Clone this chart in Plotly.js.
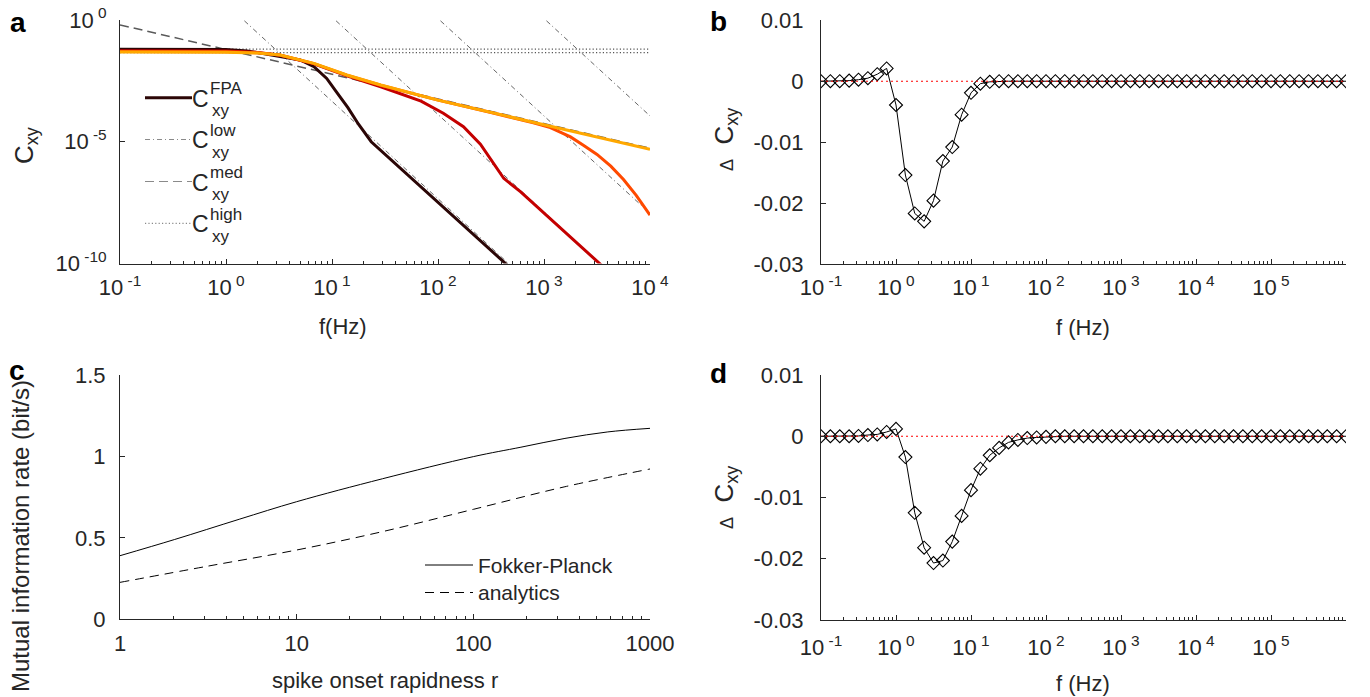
<!DOCTYPE html>
<html><head><meta charset="utf-8">
<script src="https://cdn.plot.ly/plotly-3.0.1.min.js"></script>
<style>html,body{margin:0;padding:0;background:#fff}#chart{width:1370px;height:697px}</style>
</head><body><div id="chart"></div>
<script>
// ===== Panel a: coherence spectra (values as log10) =====
const darkLogF = [-1, 0, 0.2, 0.35, 0.5, 0.7, 0.83, 0.95, 1.05, 1.15, 1.25, 1.37, 2.7];
const darkLogC = [-1.20, -1.21, -1.27, -1.38, -1.50, -1.64, -1.92, -2.40, -3.00, -3.60, -4.28, -5.00, -10.25];
const redLogF = [-1, 0, 0.3, 0.51, 0.83, 1.14, 1.46, 1.65, 1.84, 2.05, 2.24, 2.40, 2.53, 2.62, 2.78, 3.6];
const redLogC = [-1.26, -1.27, -1.33, -1.45, -1.80, -2.29, -2.74, -3.02, -3.33, -3.83, -4.38, -5.10, -5.95, -6.50, -7.06, -10.3];
const orangeRedLogF = [-1, 0, 0.3, 0.51, 0.83, 1.14, 1.46, 1.77, 2.0, 2.5, 2.9, 3.06, 3.25, 3.375, 3.5, 3.63, 3.75, 3.87, 4.0];
const orangeRedLogC = [-1.29, -1.30, -1.35, -1.44, -1.79, -2.27, -2.68, -3.02, -3.29, -3.80, -4.22, -4.42, -4.80, -5.15, -5.52, -6.00, -6.55, -7.20, -8.01];
const orangeLogF = [-1, 0, 0.3, 0.51, 0.83, 1.14, 1.46, 1.77, 2.0, 3.0, 4.0];
const orangeLogC = [-1.31, -1.32, -1.36, -1.44, -1.78, -2.26, -2.67, -3.01, -3.29, -4.30, -5.31];
// asymptotes
const lowLogF = [[0.09, 2.79], [0.955, 3.655], [1.94, 4.64], [2.94, 5.64]];
const lowLogC = [0.3, -10.5];
const medLogF = [-1, 4];
const medLogC = [-0.20, -5.27];
const highLogF = [-1, 4];
const highLogC = [[-1.20, -1.20], [-1.34, -1.34]];
const fpaColors = ['#2b0606', '#c40000', '#ff4a00', '#ffa800'];

// ===== Panels b, d: difference of coherence =====
const freqLog = [-1, -0.875, -0.75, -0.625, -0.5, -0.375, -0.25, -0.125, 0, 0.125, 0.25, 0.375, 0.5, 0.625, 0.75, 0.875,
  1, 1.125, 1.25, 1.375, 1.5, 1.625, 1.75, 1.875, 2, 2.125, 2.25, 2.375, 2.5, 2.625, 2.75, 2.875,
  3, 3.125, 3.25, 3.375, 3.5, 3.625, 3.75, 3.875, 4, 4.125, 4.25, 4.375, 4.5, 4.625, 4.75, 4.875,
  5, 5.125, 5.25, 5.375, 5.5, 5.625, 5.75, 5.875, 6];
const deltaB = [0, 0, 0, 0.0001, 0.00025, 0.0005, 0.00115, 0.0021, -0.0039, -0.0154, -0.0217, -0.0230, -0.0196, -0.0131, -0.0108, -0.0055,
  -0.0019, -0.0004, -0.0001, 0, 0, 0, 0, 0, 0, 0, 0, 0, 0, 0, 0, 0,
  0, 0, 0, 0, 0, 0, 0, 0, 0, 0, 0, 0, 0, 0, 0, 0,
  0, 0, 0, 0, 0, 0, 0, 0, 0];
const deltaD = [0, 0, 0, 0, 0.00005, 0.0002, 0.0003, 0.0007, 0.0012, -0.0034, -0.0125, -0.0182, -0.0207, -0.0203, -0.0172, -0.0130,
  -0.0088, -0.0053, -0.0031, -0.0019, -0.0010, -0.0006, -0.0003, -0.0002, -0.0001, 0, 0, 0, 0, 0, 0, 0,
  0, 0, 0, 0, 0, 0, 0, 0, 0, 0, 0, 0, 0, 0, 0, 0,
  0, 0, 0, 0, 0, 0, 0, 0, 0];
const zeroLineF = [0.1, 1e6];
const zeroLineY = [0, 0];

// ===== Panel c: mutual information rate =====
const rFP = [1, 2.03, 4.73, 10, 30.6, 100, 186, 330, 577, 1000];
const miFP = [0.391, 0.490, 0.615, 0.723, 0.864, 1.0, 1.058, 1.112, 1.152, 1.174];
const rAn = [1, 3.15, 10, 30.6, 100, 330, 1000];
const miAn = [0.227, 0.327, 0.426, 0.539, 0.676, 0.815, 0.924];

// ===== helpers =====
const W = 1370, H = 697;
const px = x => x / W, py = y => 1 - y / H;
const pow10 = a => a.map(v => Math.pow(10, v));
const FONT = 'Liberation Sans, Arial, sans-serif';
const AX = '#262626';

const traces = [];
// C_low dash-dot
lowLogF.forEach(lf => traces.push({x: pow10(lf), y: pow10(lowLogC), xaxis: 'x', yaxis: 'y', mode: 'lines',
  line: {color: '#666666', width: 1, dash: '5px,3px,1px,3px'}, showlegend: false, hoverinfo: 'skip'}));
// C_high dotted
highLogC.forEach(lc => traces.push({x: pow10(highLogF), y: pow10(lc), xaxis: 'x', yaxis: 'y', mode: 'lines',
  line: {color: '#555555', width: 1.2, dash: '1.2px,2.2px'}, showlegend: false, hoverinfo: 'skip'}));
// C_med dashed
traces.push({x: pow10(medLogF), y: pow10(medLogC), xaxis: 'x', yaxis: 'y', mode: 'lines',
  line: {color: '#5a5a5a', width: 1.5, dash: '9px,5px'}, showlegend: false, hoverinfo: 'skip'});
// FPA curves
[[darkLogF, darkLogC], [redLogF, redLogC], [orangeRedLogF, orangeRedLogC], [orangeLogF, orangeLogC]].forEach((c, i) =>
  traces.push({x: pow10(c[0]), y: pow10(c[1]), xaxis: 'x', yaxis: 'y', mode: 'lines',
    line: {color: fpaColors[i], width: 3}, showlegend: false}));

// panel b
traces.push({x: pow10(freqLog), y: deltaB, xaxis: 'x2', yaxis: 'y2', mode: 'lines+markers',
  line: {color: '#000', width: 1}, marker: {symbol: 'diamond-open', size: 10, color: '#000', line: {width: 1.1}}, showlegend: false});
traces.push({x: zeroLineF, y: zeroLineY, xaxis: 'x2', yaxis: 'y2', mode: 'lines',
  line: {color: '#ff0000', width: 1.2, dash: '2px,3px'}, showlegend: false, hoverinfo: 'skip'});
// panel d
traces.push({x: pow10(freqLog), y: deltaD, xaxis: 'x4', yaxis: 'y4', mode: 'lines+markers',
  line: {color: '#000', width: 1}, marker: {symbol: 'diamond-open', size: 10, color: '#000', line: {width: 1.1}}, showlegend: false});
traces.push({x: zeroLineF, y: zeroLineY, xaxis: 'x4', yaxis: 'y4', mode: 'lines',
  line: {color: '#ff0000', width: 1.2, dash: '2px,3px'}, showlegend: false, hoverinfo: 'skip'});
// panel c
traces.push({x: rFP, y: miFP, xaxis: 'x3', yaxis: 'y3', mode: 'lines', line: {color: '#000', width: 1, shape: 'spline'}, showlegend: false});
traces.push({x: rAn, y: miAn, xaxis: 'x3', yaxis: 'y3', mode: 'lines', line: {color: '#000', width: 1, dash: '9px,6px', shape: 'spline'}, showlegend: false});

// tick helpers
function minorVals(k0, k1) { const v = []; for (let k = k0; k < k1; k++) for (let m = 2; m <= 9; m++) v.push(m * Math.pow(10, k)); return v; }
function powLabels(k0, k1) { const t = [], v = []; for (let k = k0; k <= k1; k++) { v.push(Math.pow(10, k)); t.push('10<sup>\u00a0' + k + '</sup>'); } return {v, t}; }

const pa = powLabels(-1, 4);
const pb = powLabels(-1, 5); pb.v.push(1e6); pb.t.push(' ');
const base = {showline: true, linecolor: AX, linewidth: 1, showgrid: false, zeroline: false, ticks: 'inside', ticklen: 5,
  tickcolor: AX, tickwidth: 1, tickfont: {family: FONT, size: 22, color: AX}, mirror: false, fixedrange: true};

const layout = {
  width: W, height: H, margin: {l: 0, r: 0, t: 0, b: 0}, paper_bgcolor: '#fff', plot_bgcolor: '#fff',
  font: {family: FONT, color: AX}, showlegend: false,
  xaxis: Object.assign({}, base, {domain: [px(120), px(650)], anchor: 'y', type: 'log', range: [-1, 4],
    tickmode: 'array', tickvals: pa.v, ticktext: pa.t, ticklabelstandoff: 4,
    minor: {tickmode: 'array', tickvals: minorVals(-1, 4), ticks: 'inside', ticklen: 3, tickcolor: AX}}),
  yaxis: Object.assign({}, base, {domain: [py(263.5), py(20)], anchor: 'x', type: 'log', range: [-10, 0],
    tickmode: 'array', tickvals: [1e-10, 1e-5, 1], ticktext: ['10<sup>\u00a0-10</sup>', '10<sup>\u00a0-5</sup>', '10<sup>\u00a00</sup>'], ticklabelstandoff: 8}),
  xaxis2: Object.assign({}, base, {domain: [px(821), px(1346)], anchor: 'y2', type: 'log', range: [-1, 6],
    tickmode: 'array', tickvals: pb.v, ticktext: pb.t, ticklabelstandoff: 4,
    minor: {tickmode: 'array', tickvals: minorVals(-1, 6), ticks: 'inside', ticklen: 3, tickcolor: AX}}),
  yaxis2: Object.assign({}, base, {domain: [py(264), py(20.3)], anchor: 'x2', range: [-0.03, 0.01],
    tickmode: 'array', tickvals: [-0.03, -0.02, -0.01, 0, 0.01], ticktext: ['-0.03', '-0.02', '-0.01', '0', '0.01'], ticklabelstandoff: 12}),
  xaxis3: Object.assign({}, base, {domain: [px(120), px(650)], anchor: 'y3', type: 'log', range: [0, 3],
    tickmode: 'array', tickvals: [1, 10, 100, 1000], ticktext: ['1', '10', '100', '1000'], ticklabelstandoff: 4,
    minor: {tickmode: 'array', tickvals: minorVals(0, 3), ticks: 'inside', ticklen: 3, tickcolor: AX}}),
  yaxis3: Object.assign({}, base, {domain: [py(619.3), py(375.3)], anchor: 'x3', range: [0, 1.5],
    tickmode: 'array', tickvals: [0, 0.5, 1, 1.5], ticktext: ['0', '0.5', '1', '1.5'], ticklabelstandoff: 9}),
  xaxis4: Object.assign({}, base, {domain: [px(821), px(1346)], anchor: 'y4', type: 'log', range: [-1, 6],
    tickmode: 'array', tickvals: pb.v, ticktext: pb.t, ticklabelstandoff: 8,
    minor: {tickmode: 'array', tickvals: minorVals(-1, 6), ticks: 'inside', ticklen: 3, tickcolor: AX}}),
  yaxis4: Object.assign({}, base, {domain: [py(620), py(375)], anchor: 'x4', range: [-0.03, 0.01],
    tickmode: 'array', tickvals: [-0.03, -0.02, -0.01, 0, 0.01], ticktext: ['-0.03', '-0.02', '-0.01', '0', '0.01'], ticklabelstandoff: 12}),
  annotations: [], shapes: []
};

function ann(text, x, y, opts) {
  layout.annotations.push(Object.assign({text, x: px(x), y: py(y), xref: 'paper', yref: 'paper', showarrow: false,
    xanchor: 'center', yanchor: 'middle', borderpad: 0, font: {family: FONT, size: 22, color: AX}}, opts || {}));
}
// panel letters
ann('<b>a</b>', 18, 23, {font: {family: FONT, size: 28, color: '#000'}});
ann('<b>b</b>', 719, 21, {font: {family: FONT, size: 28, color: '#000'}});
ann('<b>c</b>', 17, 370, {font: {family: FONT, size: 28, color: '#000'}});
ann('<b>d</b>', 719, 373, {font: {family: FONT, size: 28, color: '#000'}});
// axis titles
ann('C<sub>xy</sub>', 26, 145, {textangle: -90, font: {family: FONT, size: 26, color: AX}});
ann('f(Hz)', 343, 326);
ann('<span style="font-size:18px">Δ</span>  C<sub>xy</sub>', 725, 139, {textangle: -90, font: {family: FONT, size: 26, color: AX}});
ann('f (Hz)', 1083, 327);
ann('Mutual information rate (bit/s)', 20, 536, {textangle: -90, font: {family: FONT, size: 24, color: AX}});
ann('spike onset rapidness r', 385, 680);
ann('<span style="font-size:18px">Δ</span>  C<sub>xy</sub>', 725, 497, {textangle: -90, font: {family: FONT, size: 26, color: AX}});
ann('f (Hz)', 1083, 683);

// legend panel a
const legA = [
  {y: 97.7, sup: 'FPA', line: {color: fpaColors[0], width: 3}},
  {y: 139.5, sup: 'low', line: {color: '#8a8a8a', width: 1, dash: '5px,3px,1px,3px'}},
  {y: 181.5, sup: 'med', line: {color: '#8a8a8a', width: 1.2, dash: '9px,5px'}},
  {y: 223.3, sup: 'high', line: {color: '#8a8a8a', width: 1.2, dash: '1.2px,2.2px'}}
];
legA.forEach(e => {
  layout.shapes.push({type: 'line', xref: 'paper', yref: 'paper', x0: px(145), x1: px(192), y0: py(e.y), y1: py(e.y), line: e.line});
  ann('C', 210, e.y + 1, {xanchor: 'right', font: {family: FONT, size: 23, color: AX}});
  ann(e.sup, 209, e.y - 9, {xanchor: 'left', font: {family: FONT, size: 17, color: AX}});
  ann('xy', 211, e.y + 13, {xanchor: 'left', font: {family: FONT, size: 17, color: AX}});
});
// legend panel c
layout.shapes.push({type: 'line', xref: 'paper', yref: 'paper', x0: px(425), x1: px(473), y0: py(565), y1: py(565), line: {color: '#000', width: 1}});
layout.shapes.push({type: 'line', xref: 'paper', yref: 'paper', x0: px(425), x1: px(473), y0: py(592.5), y1: py(592.5), line: {color: '#000', width: 1, dash: '9px,6px'}});
ann('Fokker-Planck', 477, 565, {xanchor: 'left', font: {family: FONT, size: 21, color: AX}});
ann('analytics', 477, 592.5, {xanchor: 'left', font: {family: FONT, size: 21, color: AX}});

Plotly.newPlot('chart', traces, layout, {staticPlot: true, displayModeBar: false});
</script>
</body></html>
